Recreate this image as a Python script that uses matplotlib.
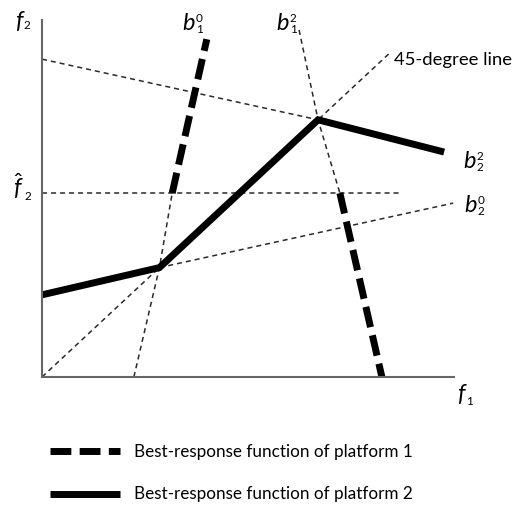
import numpy as np
import matplotlib
matplotlib.use("Agg")
import matplotlib.pyplot as plt

plt.rcParams['font.family'] = ['Lato', 'DejaVu Sans']
plt.rcParams['mathtext.fontset'] = 'custom'
plt.rcParams['mathtext.it'] = 'Lato:italic'
plt.rcParams['mathtext.rm'] = 'Lato'

# equilibrium points (f1, f2)
e0 = (2.85, 2.85)
e2 = (6.70, 6.70)
f2_hat = 4.79

# platform 1 best responses: thin helper part and thick part
b10_thin_x = [2.23, e0[0], 3.16]
b10_thin_y = [0.0, e0[1], f2_hat]
b10_thick_x = [3.16, 4.00]
b10_thick_y = [f2_hat, 8.80]

b12_thin_x = [6.24, e2[0], 7.23]
b12_thin_y = [9.04, e2[1], f2_hat]
b12_thick_x = [7.23, 8.25]
b12_thick_y = [f2_hat, 0.0]

# platform 2 best responses
b20_thin_x = [e0[0], 9.98]
b20_thin_y = [e0[1], 4.53]
b22_thin_x = [0.0, e2[0]]
b22_thin_y = [8.28, e2[1]]

# thick solid best response of platform 2
br2_x = [0.0, e0[0], e2[0], 9.76]
br2_y = [2.14, e0[1], e2[1], 5.86]

diag_x = [0.0, 8.42]
diag_y = [0.0, 8.42]

hat_x = [0.0, 8.67]
hat_y = [f2_hat, f2_hat]

fig = plt.figure(figsize=(5.16, 5.12), dpi=100)
ax = fig.add_axes([42/516, 1-377/512, 412/516, 357/512])
ax.set_xlim(0, 10)
ax.set_ylim(0, 9.3)

thin = dict(color='#2a2a2a', lw=1.1, dashes=(3.3, 2.6), clip_on=False)
for xs, ys in [(b10_thin_x, b10_thin_y), (b12_thin_x, b12_thin_y),
               (b20_thin_x, b20_thin_y), (b22_thin_x, b22_thin_y),
               (diag_x, diag_y), (hat_x, hat_y)]:
    ax.plot(xs, ys, **thin)

thick_dash = dict(color='black', lw=5, dashes=(3, 1.2), solid_capstyle='butt',
                  dash_capstyle='butt', clip_on=False)
ax.plot(b10_thick_x, b10_thick_y, label='Best-response function of platform 1', **thick_dash)
ax.plot(b12_thick_x, b12_thick_y, **thick_dash)
ax.plot(br2_x, br2_y, color='black', lw=5, solid_capstyle='butt',
        solid_joinstyle='miter', clip_on=False,
        label='Best-response function of platform 2')

for s in ['top', 'right']:
    ax.spines[s].set_visible(False)
for s in ['left', 'bottom']:
    ax.spines[s].set_color('#666666')
    ax.spines[s].set_linewidth(1.5)
ax.set_xticks([])
ax.set_yticks([])
ax.patch.set_alpha(0)


def label(x, y, main, sub=None, sup=None, size=17, sub_dy=-2.2):
    # main glyph ends at x, scripts start right of it
    ax.text(x, y, main, fontsize=size, ha='right', va='baseline',
            style='italic', clip_on=False)
    if sub is not None:
        ax.annotate(sub, (x, y), xytext=(0.6, sub_dy), textcoords='offset points',
                    fontsize=8.5, ha='left', va='baseline', annotation_clip=False)
    if sup is not None:
        ax.annotate(sup, (x, y), xytext=(0.6, 5.8), textcoords='offset points',
                    fontsize=8.5, ha='left', va='baseline', annotation_clip=False)


label(-0.46, 9.09, 'f', sub='2', sub_dy=-1.0)
label(-0.44, 4.71, r'$\hat{f}$', sub='2', sub_dy=-3.0)
label(10.27, -0.63, 'f', sub='1', sub_dy=-3.0)
label(3.71, 9.04, 'b', sub='1', sup='0')
label(5.995, 9.04, 'b', sub='1', sup='2')
label(10.53, 5.44, 'b', sub='2', sup='2')
label(10.56, 4.30, 'b', sub='2', sup='0')
ax.text(8.54, 8.26, '45-degree line', fontsize=13.3, ha='left', va='center')

fig.legend(loc='upper left', bbox_to_anchor=(50/516, 1-444/512), frameon=False,
           fontsize=12.3, handlelength=4.1, handletextpad=0.8, labelspacing=1.55,
           borderpad=0, borderaxespad=0)

fig.savefig('out.png', dpi=100)
